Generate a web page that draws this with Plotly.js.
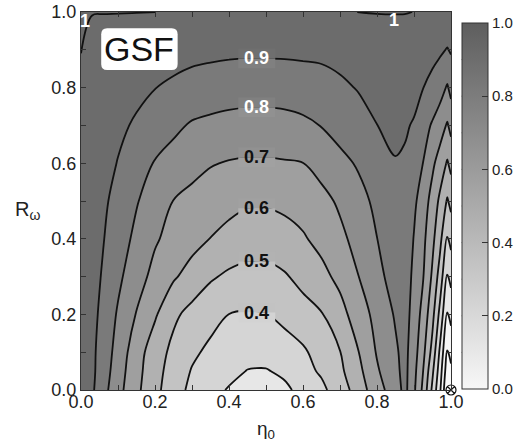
<!DOCTYPE html>
<html>
<head>
<meta charset="utf-8">
<script src="https://cdn.plot.ly/plotly-3.0.1.min.js"></script>
<style>html,body{margin:0;padding:0;background:#fff;}#chart{width:532px;height:443px;}</style>
</head>
<body>
<div id="chart"></div>
<script>
// eta_0 grid (x) and R_omega grid (y)
const etaVals = [0, 0.03, 0.06, 0.1, 0.15, 0.2, 0.25, 0.3, 0.35, 0.4, 0.45, 0.5, 0.55, 0.6, 0.65, 0.7, 0.75, 0.8, 0.85, 0.875, 0.9, 0.925, 0.95, 0.97, 0.99, 1.0];
const romegaVals = [0, 0.05, 0.1, 0.2, 0.3, 0.4, 0.5, 0.6, 0.7, 0.8, 0.9, 1.0];
// GSF values, one row per R_omega value
const gsfR000 = [0.98, 0.915, 0.834, 0.733, 0.622, 0.527, 0.443, 0.376, 0.327, 0.293, 0.276, 0.272, 0.284, 0.324, 0.378, 0.45, 0.545, 0.663, 0.75, 0.83, 0.718, 0.575, 0.377, 0.217, 0.0, 0.03];
const gsfR005 = [0.98, 0.92, 0.85, 0.747, 0.632, 0.536, 0.457, 0.394, 0.363, 0.325, 0.297, 0.295, 0.315, 0.369, 0.413, 0.479, 0.574, 0.688, 0.775, 0.83, 0.73, 0.598, 0.417, 0.25, 0.04, 0.08];
const gsfR010 = [0.98, 0.92, 0.858, 0.762, 0.643, 0.547, 0.474, 0.417, 0.38, 0.355, 0.333, 0.33, 0.348, 0.385, 0.44, 0.497, 0.598, 0.708, 0.786, 0.83, 0.743, 0.625, 0.464, 0.283, 0.09, 0.13];
const gsfR020 = [0.98, 0.93, 0.871, 0.789, 0.695, 0.612, 0.519, 0.469, 0.431, 0.399, 0.392, 0.398, 0.431, 0.463, 0.494, 0.565, 0.65, 0.732, 0.81, 0.84, 0.762, 0.665, 0.529, 0.373, 0.19, 0.23];
const gsfR030 = [0.98, 0.935, 0.89, 0.821, 0.74, 0.671, 0.612, 0.562, 0.512, 0.483, 0.47, 0.47, 0.49, 0.529, 0.572, 0.626, 0.699, 0.766, 0.85, 0.855, 0.776, 0.703, 0.583, 0.458, 0.29, 0.33];
const gsfR040 = [0.98, 0.94, 0.904, 0.847, 0.777, 0.711, 0.668, 0.633, 0.598, 0.568, 0.547, 0.545, 0.565, 0.59, 0.629, 0.677, 0.734, 0.799, 0.86, 0.87, 0.795, 0.723, 0.623, 0.529, 0.39, 0.43];
const gsfR050 = [0.98, 0.945, 0.915, 0.872, 0.807, 0.75, 0.698, 0.675, 0.652, 0.632, 0.613, 0.612, 0.622, 0.64, 0.67, 0.716, 0.771, 0.82, 0.87, 0.88, 0.82, 0.748, 0.663, 0.58, 0.49, 0.53];
const gsfR060 = [0.98, 0.95, 0.935, 0.896, 0.842, 0.794, 0.764, 0.729, 0.706, 0.694, 0.688, 0.688, 0.693, 0.699, 0.736, 0.775, 0.81, 0.85, 0.893, 0.89, 0.85, 0.798, 0.718, 0.659, 0.59, 0.63];
const gsfR070 = [0.985, 0.96, 0.945, 0.92, 0.887, 0.854, 0.82, 0.79, 0.778, 0.768, 0.763, 0.762, 0.767, 0.78, 0.803, 0.835, 0.868, 0.899, 0.93, 0.909, 0.893, 0.837, 0.789, 0.745, 0.69, 0.73];
const gsfR080 = [0.99, 0.975, 0.965, 0.95, 0.925, 0.902, 0.88, 0.865, 0.853, 0.846, 0.842, 0.842, 0.845, 0.853, 0.865, 0.885, 0.905, 0.93, 0.95, 0.945, 0.925, 0.901, 0.87, 0.84, 0.79, 0.83];
const gsfR090 = [1.001, 0.985, 0.975, 0.968, 0.96, 0.952, 0.945, 0.929, 0.924, 0.919, 0.917, 0.917, 0.918, 0.92, 0.921, 0.928, 0.945, 0.96, 0.97, 0.968, 0.96, 0.945, 0.93, 0.915, 0.895, 0.91];
const gsfR100 = [1.01, 1.0015, 1.0015, 1.0015, 1.001, 1.0005, 0.99, 0.985, 0.98, 0.977, 0.975, 0.975, 0.977, 0.98, 0.985, 0.993, 1.0005, 1.002, 1.002, 1.002, 0.9995, 0.995, 0.99, 0.985, 0.975, 0.98];

// contour label texts and where they sit
const labelTexts = ['0.9', '0.8', '0.7', '0.6', '0.5', '0.4'];
const labelEta = [0.475, 0.475, 0.475, 0.475, 0.475, 0.475];
const labelR = [0.877, 0.748, 0.616, 0.481, 0.34, 0.205];
const cbTickVals = [0, 0.2, 0.4, 0.6, 0.8, 1.0];
const cbMinorVals = [0.1, 0.3, 0.5, 0.7, 0.9];

const gsf = [gsfR000, gsfR005, gsfR010, gsfR020, gsfR030, gsfR040, gsfR050, gsfR060, gsfR070, gsfR080, gsfR090, gsfR100];

const FONT = 'Liberation Sans, Arial, Helvetica, sans-serif';

const bandScale = [
  [0, 'rgb(250,250,250)'], [0.0909, 'rgb(249,249,249)'], [0.1818, 'rgb(243,243,243)'],
  [0.2727, 'rgb(227,227,227)'], [0.3636, 'rgb(211,211,211)'], [0.4545, 'rgb(194,194,194)'],
  [0.5455, 'rgb(178,178,178)'], [0.6364, 'rgb(161,161,161)'], [0.7273, 'rgb(145,145,145)'],
  [0.8182, 'rgb(128,128,128)'], [0.9091, 'rgb(111,111,111)'], [1, 'rgb(105,105,105)']
];
const barScale = [[0, 'rgb(247,247,247)'], [1, 'rgb(94,94,94)']];
// band colours just above / just below each labelled line
const bandAbove = ['rgb(111,111,111)', 'rgb(128,128,128)', 'rgb(145,145,145)', 'rgb(161,161,161)', 'rgb(178,178,178)', 'rgb(194,194,194)'];
const bandBelow = ['rgb(128,128,128)', 'rgb(145,145,145)', 'rgb(161,161,161)', 'rgb(178,178,178)', 'rgb(194,194,194)', 'rgb(211,211,211)'];
const labelColor = ['#fff', '#fff', '#111', '#111', '#111', '#111'];

const traces = [
  {
    type: 'contour', x: etaVals, y: romegaVals, z: gsf,
    contours: {start: 0, end: 1, size: 0.1, coloring: 'fill', showlines: true},
    colorscale: bandScale, zmin: 0, zmax: 1, showscale: false,
    line: {color: '#111', width: 1.8, smoothing: 1},
    hoverinfo: 'skip'
  },
  {
    type: 'scatter', mode: 'markers', x: [0.5], y: [0.5], hoverinfo: 'skip', showlegend: false,
    marker: {
      size: 1, opacity: 0, color: [0.5], cmin: 0, cmax: 1, colorscale: barScale, showscale: true,
      colorbar: {
        x: 1.029, xanchor: 'left', y: 0.0026, yanchor: 'bottom',
        thickness: 26, thicknessmode: 'pixels', len: 366, lenmode: 'pixels',
        xpad: 0, ypad: 0, borderwidth: 0, outlinewidth: 1, outlinecolor: '#333',
        ticks: 'inside', ticklen: 6, tickcolor: '#333', tickwidth: 1,
        tickvals: cbTickVals, tickformat: '.1f',
        tickfont: {family: FONT, size: 15, color: '#222'}
      }
    }
  },
  {
    type: 'scatter', mode: 'markers', x: [1], y: [0], hoverinfo: 'skip', showlegend: false, cliponaxis: false,
    marker: {symbol: 'circle-x-open', size: 10, color: '#111', line: {width: 1.2, color: '#111'}}
  }
];

const shapes = [];
// gap boxes behind the contour labels (two halves matching the bands on each side)
labelTexts.forEach((t, i) => {
  shapes.push({type: 'rect', xref: 'x', yref: 'y', layer: 'above', line: {width: 0},
    x0: labelEta[i] - 0.05, x1: labelEta[i] + 0.05, y0: labelR[i], y1: labelR[i] + 0.026, fillcolor: bandAbove[i]});
  shapes.push({type: 'rect', xref: 'x', yref: 'y', layer: 'above', line: {width: 0},
    x0: labelEta[i] - 0.05, x1: labelEta[i] + 0.05, y0: labelR[i] - 0.026, y1: labelR[i], fillcolor: bandBelow[i]});
});
// rounded white box behind "GSF"
(function () {
  const x0 = 0.0546, x1 = 0.2612, y0 = 0.8466, y1 = 0.9569, dx = 0.016, dy = 0.016;
  const p = `M${x0 + dx},${y0} L${x1 - dx},${y0} Q${x1},${y0} ${x1},${y0 + dy} L${x1},${y1 - dy} Q${x1},${y1} ${x1 - dx},${y1} ` +
            `L${x0 + dx},${y1} Q${x0},${y1} ${x0},${y1 - dy} L${x0},${y0 + dy} Q${x0},${y0} ${x0 + dx},${y0} Z`;
  shapes.push({type: 'path', xref: 'x', yref: 'y', layer: 'above', path: p, fillcolor: '#fff', line: {width: 0}});
})();
// colourbar: ticks on the left edge and intermediate ticks on the right edge
const cbLeft = 1.029, cbRight = 1.029 + 26 / 379, tk = 6 / 379;
const cbY = v => (1 + 366 * v) / 378;
cbTickVals.concat(cbMinorVals).forEach(v => {
  if (v > 0 && v < 1) {
    shapes.push({type: 'line', xref: 'paper', yref: 'paper', x0: cbLeft, x1: cbLeft + tk, y0: cbY(v), y1: cbY(v), line: {color: '#333', width: 1}});
  }
});
cbMinorVals.forEach(v => {
  shapes.push({type: 'line', xref: 'paper', yref: 'paper', x0: cbRight - tk, x1: cbRight, y0: cbY(v), y1: cbY(v), line: {color: '#333', width: 1}});
});

const annotations = labelTexts.map((t, i) => ({
  x: labelEta[i], y: labelR[i], xref: 'x', yref: 'y', text: '<b>' + t + '</b>', showarrow: false,
  xanchor: 'center', yanchor: 'middle',
  font: {family: FONT, size: 18, color: labelColor[i]}
}));
annotations.push(
  {x: 0.012, y: 0.975, xref: 'x', yref: 'y', text: '<b>1</b>', showarrow: false, xanchor: 'center', yanchor: 'middle', font: {family: FONT, size: 18, color: '#fff'}},
  {x: 0.847, y: 0.978, xref: 'x', yref: 'y', text: '<b>1</b>', showarrow: false, xanchor: 'center', yanchor: 'middle', font: {family: FONT, size: 18, color: '#fff'}},
  {x: 0.158, y: 0.902, xref: 'x', yref: 'y', text: 'GSF', showarrow: false, xanchor: 'center', yanchor: 'middle', font: {family: FONT, size: 34, color: '#111'}},
  {x: -0.145, y: 0.476, xref: 'paper', yref: 'paper', text: 'R<sub>ω</sub>', showarrow: false, xanchor: 'center', yanchor: 'middle', font: {family: FONT, size: 20, color: '#222'}},
  {x: 0.499, y: -0.106, xref: 'paper', yref: 'paper', text: 'η<sub>0</sub>', showarrow: false, xanchor: 'center', yanchor: 'middle', font: {family: FONT, size: 19, color: '#222'}}
);

const axisCommon = {
  range: [0, 1], tick0: 0, dtick: 0.2, tickformat: '.1f', ticks: 'inside', ticklen: 5,
  tickcolor: '#333', tickwidth: 1, mirror: 'allticks', showline: true, linecolor: '#333', linewidth: 1,
  minor: {dtick: 0.1, tick0: 0, ticks: 'inside', ticklen: 5, tickcolor: '#333', tickwidth: 1, showgrid: false},
  showgrid: false, zeroline: false, tickfont: {family: FONT, size: 18, color: '#222'}
};

const layout = {
  width: 532, height: 443, autosize: false,
  margin: {l: 81, r: 72, t: 12, b: 53, pad: 0},
  paper_bgcolor: '#fff', plot_bgcolor: '#fff',
  showlegend: false,
  font: {family: FONT, color: '#222'},
  xaxis: Object.assign({}, axisCommon, {ticklabelstandoff: -5}),
  yaxis: Object.assign({}, axisCommon),
  annotations: annotations,
  shapes: shapes
};

Plotly.newPlot('chart', traces, layout, {staticPlot: true, displayModeBar: false});
</script>
</body>
</html>
